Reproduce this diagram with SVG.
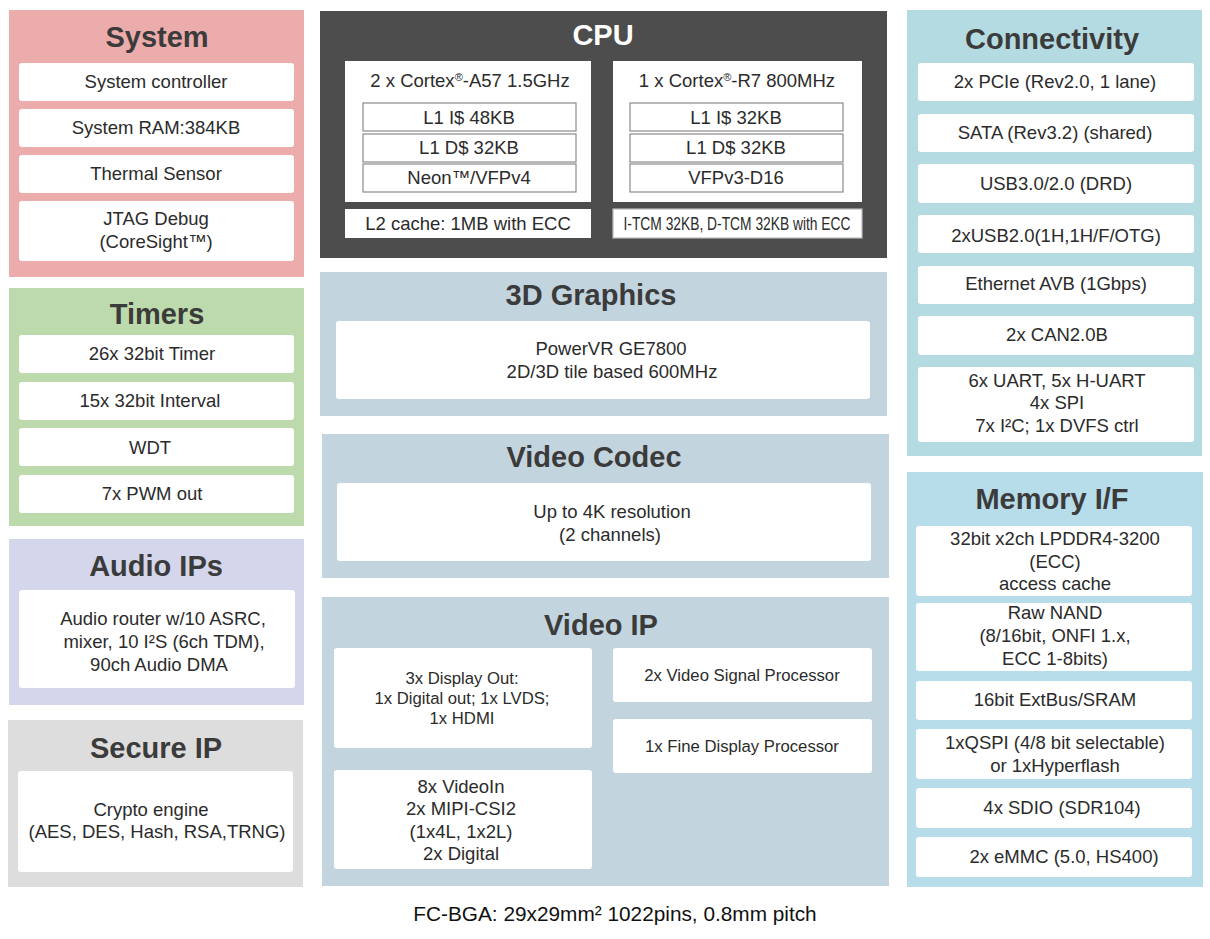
<svg xmlns="http://www.w3.org/2000/svg" width="1210" height="939" viewBox="0 0 1210 939">
<style>
text{font-family:"Liberation Sans",Arial,sans-serif;fill:#2b2b2b;text-anchor:middle}
.t{font-size:29px;font-weight:bold;fill:#3b3b3b}
.w{fill:#fff;stroke:none}
.i{font-size:18.5px}
.s{font-size:16.7px}
.sb{fill:#fff;stroke:#8a8a8a;stroke-width:1.2}
</style>
<rect width="1210" height="939" fill="#fff"/>

<g id="system">
<rect x="9" y="10" width="295" height="267" fill="#edacac"/>
<text class="t" x="157" y="47">System</text>
<rect class="w" x="19" y="63" width="275" height="38" rx="3"/>
<text class="i" x="156" y="88">System controller</text>
<rect class="w" x="19" y="109" width="275" height="38" rx="3"/>
<text class="i" x="156" y="134">System RAM:384KB</text>
<rect class="w" x="19" y="155" width="275" height="38" rx="3"/>
<text class="i" x="156" y="180">Thermal Sensor</text>
<rect class="w" x="19" y="201" width="275" height="60" rx="3"/>
<text class="i" x="156" y="225">JTAG Debug</text>
<text class="i" x="156" y="248">(CoreSight™)</text>
</g>

<g id="timers">
<rect x="9" y="288" width="295" height="238" fill="#bddaad"/>
<text class="t" x="157" y="324">Timers</text>
<rect class="w" x="19" y="335" width="275" height="38" rx="3"/>
<text class="i" x="152" y="360">26x 32bit Timer</text>
<rect class="w" x="19" y="382" width="275" height="38" rx="3"/>
<text class="i" x="150" y="407">15x 32bit Interval</text>
<rect class="w" x="19" y="428" width="275" height="38" rx="3"/>
<text class="i" x="150" y="454">WDT</text>
<rect class="w" x="19" y="475" width="275" height="38" rx="3"/>
<text class="i" x="152" y="500">7x PWM out</text>
</g>

<g id="audio">
<rect x="9" y="539" width="295" height="166" fill="#d4d6ec"/>
<text class="t" x="156" y="576">Audio IPs</text>
<rect class="w" x="19" y="590" width="276" height="98" rx="3"/>
<text class="i" x="163" y="625">Audio router w/10 ASRC,</text>
<text class="i" x="164" y="648">mixer, 10 I²S (6ch TDM),</text>
<text class="i" x="159" y="671">90ch Audio DMA</text>
</g>

<g id="secure">
<rect x="8" y="720" width="295" height="167" fill="#dddddd"/>
<text class="t" x="156" y="758">Secure IP</text>
<rect class="w" x="18" y="771" width="275" height="101" rx="3"/>
<text class="i" x="151" y="816">Crypto engine</text>
<text class="i" x="157" y="838">(AES, DES, Hash, RSA,TRNG)</text>
</g>

<g id="cpu">
<rect x="320" y="11" width="567" height="247" fill="#4d4d4d"/>
<text class="t" x="603" y="45" style="fill:#fff">CPU</text>
<rect class="w" x="345" y="61" width="246" height="141"/>
<text class="i" x="470" y="87">2 x Cortex<tspan font-size="11" dy="-6">®</tspan><tspan dy="6">-A57 1.5GHz</tspan></text>
<rect class="sb" x="363" y="103" width="213" height="28"/>
<text class="i" x="469" y="124">L1 I$ 48KB</text>
<rect class="sb" x="363" y="134" width="213" height="28"/>
<text class="i" x="469" y="154">L1 D$ 32KB</text>
<rect class="sb" x="363" y="164" width="213" height="28"/>
<text class="i" x="469" y="184">Neon™/VFPv4</text>
<rect class="w" x="345" y="209" width="246" height="29"/>
<text class="i" x="468" y="230">L2 cache: 1MB with ECC</text>
<rect class="w" x="613" y="61" width="249" height="141"/>
<text class="i" x="737" y="87">1 x Cortex<tspan font-size="11" dy="-6">®</tspan><tspan dy="6">-R7 800MHz</tspan></text>
<rect class="sb" x="630" y="103" width="213" height="28"/>
<text class="i" x="736" y="124">L1 I$ 32KB</text>
<rect class="sb" x="630" y="134" width="213" height="28"/>
<text class="i" x="736" y="154">L1 D$ 32KB</text>
<rect class="sb" x="630" y="164" width="213" height="28"/>
<text class="i" x="736" y="184">VFPv3-D16</text>
<rect class="sb" x="613" y="209" width="249" height="29" style="stroke:#bbb"/>
<text class="i" x="737" y="230" textLength="227" lengthAdjust="spacingAndGlyphs">I-TCM 32KB, D-TCM 32KB with ECC</text>
</g>

<g id="graphics3d">
<rect x="320" y="272" width="567" height="144" fill="#c2d4de"/>
<text class="t" x="591" y="305">3D Graphics</text>
<rect class="w" x="336" y="321" width="534" height="78" rx="3"/>
<text class="i" x="611" y="355">PowerVR GE7800</text>
<text class="i" x="612" y="378">2D/3D tile based 600MHz</text>
</g>

<g id="videocodec">
<rect x="322" y="434" width="567" height="144" fill="#c2d4de"/>
<text class="t" x="594" y="467">Video Codec</text>
<rect class="w" x="337" y="483" width="534" height="78" rx="3"/>
<text class="i" x="612" y="518">Up to 4K resolution</text>
<text class="i" x="610" y="541">(2 channels)</text>
</g>

<g id="videoip">
<rect x="322" y="597" width="567" height="289" fill="#c2d4de"/>
<text class="t" x="601" y="635">Video IP</text>
<rect class="w" x="334" y="648" width="258" height="100" rx="3"/>
<text class="s" x="462" y="684">3x Display Out:</text>
<text class="s" x="462" y="704">1x Digital out; 1x LVDS;</text>
<text class="s" x="462" y="724">1x HDMI</text>
<rect class="w" x="334" y="770" width="258" height="99" rx="3"/>
<text class="i" x="461" y="793">8x VideoIn</text>
<text class="i" x="461" y="815">2x MIPI-CSI2</text>
<text class="i" x="461" y="838">(1x4L, 1x2L)</text>
<text class="i" x="461" y="860">2x Digital</text>
<rect class="w" x="613" y="648" width="259" height="54" rx="3"/>
<text class="s" x="742" y="681">2x Video Signal Processor</text>
<rect class="w" x="613" y="719" width="259" height="54" rx="3"/>
<text class="s" x="742" y="752">1x Fine Display Processor</text>
</g>

<g id="connectivity">
<rect x="907" y="10" width="295" height="446" fill="#b5dbe2"/>
<text class="t" x="1052" y="49">Connectivity</text>
<rect class="w" x="918" y="63" width="276" height="38" rx="3"/>
<text class="i" x="1055" y="88">2x PCIe (Rev2.0, 1 lane)</text>
<rect class="w" x="918" y="114" width="276" height="38" rx="3"/>
<text class="i" x="1055" y="139">SATA (Rev3.2) (shared)</text>
<rect class="w" x="918" y="164" width="276" height="39" rx="3"/>
<text class="i" x="1056" y="190">USB3.0/2.0 (DRD)</text>
<rect class="w" x="918" y="215" width="276" height="38" rx="3"/>
<text class="i" x="1056" y="242">2xUSB2.0(1H,1H/F/OTG)</text>
<rect class="w" x="918" y="266" width="276" height="38" rx="3"/>
<text class="i" x="1056" y="290">Ethernet AVB (1Gbps)</text>
<rect class="w" x="918" y="316" width="276" height="39" rx="3"/>
<text class="i" x="1057" y="341">2x CAN2.0B</text>
<rect class="w" x="918" y="367" width="276" height="75" rx="3"/>
<text class="i" x="1057" y="387">6x UART, 5x H-UART</text>
<text class="i" x="1057" y="409">4x SPI</text>
<text class="i" x="1057" y="432">7x I²C; 1x DVFS ctrl</text>
</g>

<g id="memory">
<rect x="907" y="472" width="296" height="415" fill="#b7dcea"/>
<text class="t" x="1052" y="509">Memory I/F</text>
<rect class="w" x="916" y="526" width="276" height="70" rx="3"/>
<text class="i" x="1055" y="545">32bit x2ch LPDDR4-3200</text>
<text class="i" x="1055" y="568">(ECC)</text>
<text class="i" x="1055" y="590">access cache</text>
<rect class="w" x="916" y="603" width="276" height="68" rx="3"/>
<text class="i" x="1055" y="619">Raw NAND</text>
<text class="i" x="1055" y="642">(8/16bit, ONFI 1.x,</text>
<text class="i" x="1055" y="665">ECC 1-8bits)</text>
<rect class="w" x="916" y="681" width="276" height="39" rx="3"/>
<text class="i" x="1055" y="706">16bit ExtBus/SRAM</text>
<rect class="w" x="916" y="729" width="276" height="50" rx="3"/>
<text class="i" x="1055" y="749">1xQSPI (4/8 bit selectable)</text>
<text class="i" x="1055" y="772">or 1xHyperflash</text>
<rect class="w" x="916" y="788" width="276" height="40" rx="3"/>
<text class="i" x="1062" y="814">4x SDIO (SDR104)</text>
<rect class="w" x="916" y="837" width="276" height="40" rx="3"/>
<text class="i" x="1064" y="863">2x eMMC (5.0, HS400)</text>
</g>

<g id="connectors"></g>

<text x="615" y="921" style="font-size:20.8px;fill:#111">FC-BGA: 29x29mm² 1022pins, 0.8mm pitch</text>
</svg>
